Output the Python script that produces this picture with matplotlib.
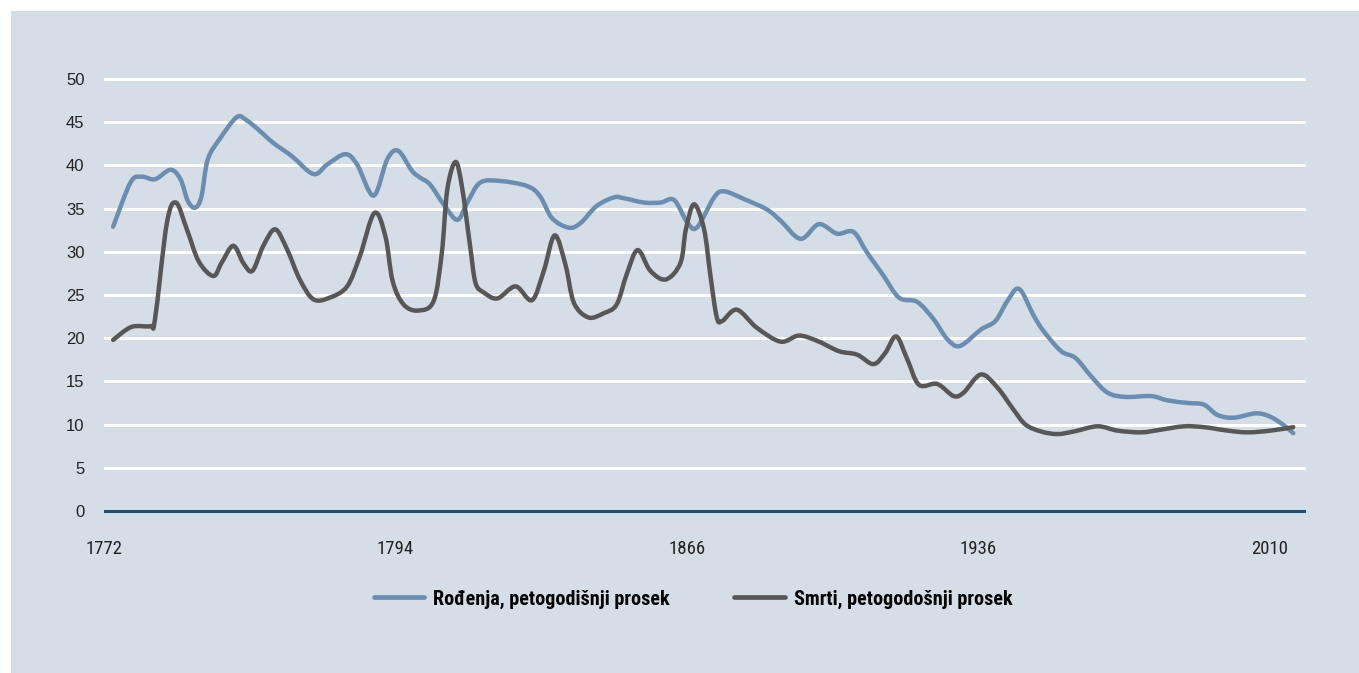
import numpy as np
import matplotlib
matplotlib.use("Agg")
import matplotlib.pyplot as plt
from matplotlib import font_manager
from matplotlib.path import Path
from matplotlib.patches import PathPatch, Rectangle
from matplotlib.lines import Line2D

# category positions (index along the category axis) and values
birth_x = [1.0, 2.9, 4.1, 5.6, 7.3, 8.4, 9.2, 10.0, 10.7, 11.4, 12.8, 14.6, 15.7, 17.1,
           18.6, 20.6, 23.0, 24.5, 26.5, 27.8, 29.6, 31.1, 32.3, 33.8, 34.7, 35.8, 37.3,
           38.8, 39.9, 41.3, 43.5, 46.5, 47.9, 49.2, 51.0, 52.3, 54.1, 56.0, 57.1, 59.3,
           61.1, 62.6, 64.0, 65.1, 67.0, 68.1, 70.3, 72.8, 74.3, 76.5, 78.5, 80.5, 82.3,
           83.8, 85.5, 87.3, 89.3, 91.1, 92.6, 94.0, 96.3, 97.9, 99.2, 100.5, 102.1, 103.2,
           105.1, 106.7, 108.4, 110.2, 112.2, 115.0, 116.8, 119.0, 120.8, 122.3, 124.1,
           126.5, 128.1, 129.6, 130.6]
birth_y = [32.9, 38.0, 38.7, 38.4, 39.5, 38.4, 35.9, 35.1, 36.4, 40.7, 43.2, 45.6, 45.2, 44.0,
           42.6, 41.1, 39.0, 40.1, 41.3, 40.1, 36.5, 40.7, 41.7, 39.4, 38.6, 37.8, 35.5,
           33.7, 35.7, 38.0, 38.2, 37.6, 36.4, 33.9, 32.8, 33.3, 35.3, 36.3, 36.2, 35.7,
           35.7, 36.0, 33.5, 32.8, 36.3, 37.0, 36.1, 34.9, 33.6, 31.5, 33.2, 32.1, 32.3,
           29.9, 27.4, 24.7, 24.2, 22.2, 19.9, 19.1, 21.0, 22.0, 24.3, 25.7, 22.6, 20.8,
           18.5, 17.7, 15.6, 13.7, 13.2, 13.3, 12.8, 12.5, 12.3, 11.1, 10.8,
           11.3, 10.9, 9.9, 9.0]

death_x = [1.0, 3.0, 5.1, 5.6, 6.9, 7.9, 9.1, 10.4, 12.0, 12.9, 14.2, 15.3, 16.3, 17.5,
           18.8, 20.1, 21.5, 23.0, 24.8, 26.7, 28.1, 29.7, 30.9, 31.7, 32.9, 34.5, 36.2,
           37.1, 37.7, 38.6, 39.3, 40.2, 40.8, 41.7, 43.2, 45.2, 47.0, 48.3, 49.5, 50.7,
           51.6, 53.2, 54.9, 56.3, 57.4, 58.6, 60.0, 61.7, 63.3, 63.9, 64.8, 65.9, 66.6,
           67.3, 67.9, 69.5, 71.7, 74.3, 76.3, 78.3, 80.7, 82.7, 84.5, 85.8, 87.0, 88.2,
           89.5, 91.5, 93.3, 94.4, 96.3, 98.1, 99.9, 101.2, 102.9, 104.7, 106.5, 109.1,
           111.3, 113.9, 116.0, 118.6, 120.8, 123.4, 125.6, 128.1, 130.6]
death_y = [19.8, 21.3, 21.4, 22.2, 33.3, 35.7, 32.6, 28.9, 27.2, 28.7, 30.7, 28.7, 27.8, 30.7,
           32.6, 30.3, 26.8, 24.5, 24.7, 26.0, 29.5, 34.5, 31.8, 26.6, 23.9, 23.2, 24.3,
           29.9, 37.2, 40.4, 37.6, 30.7, 26.4, 25.3, 24.6, 26.0, 24.4, 27.8, 31.9, 28.4,
           24.1, 22.4, 22.9, 23.9, 27.4, 30.2, 27.8, 26.8, 28.7, 32.6, 35.5, 32.6, 27.2,
           22.4, 22.0, 23.3, 21.2, 19.6, 20.3, 19.7, 18.5, 18.1, 17.0, 18.3, 20.2, 17.6,
           14.6, 14.7, 13.3, 13.7, 15.8, 14.3, 11.7, 10.0, 9.2, 8.9, 9.2, 9.8,
           9.3, 9.1, 9.4, 9.8, 9.7, 9.3, 9.1, 9.3, 9.7]

tick_pos = [0, 32, 64, 96, 128]
tick_labels = ["1772", "1794", "1866", "1936", "2010"]
y_ticks = [0, 5, 10, 15, 20, 25, 30, 35, 40, 45, 50]

labels = ["Rođenja, petogodišnji prosek", "Smrti, petogodošnji prosek"]
BLUE = "#6a8db0"
DARK = "#575757"
BG = "#d5dde6"

# the legend uses a condensed bold face; take one if the machine has it
installed = {f.name for f in font_manager.fontManager.ttflist}
narrow = next((n for n in ["Liberation Sans Narrow", "Roboto Condensed", "Open Sans Condensed"]
               if n in installed), None)
if narrow:
    leg_font = {"family": [narrow, "DejaVu Sans"], "weight": "bold", "size": 14.5}
else:
    leg_font = {"family": ["Liberation Sans", "DejaVu Sans"], "weight": "bold", "size": 12.3}


def smooth_path(xs, ys):
    # Excel-like smoothed line: cubic bezier through every point
    p = np.column_stack([xs, ys]).astype(float)
    n = len(p)
    verts = [p[0]]
    codes = [Path.MOVETO]
    for i in range(n - 1):
        p0 = p[i - 1] if i > 0 else p[i]
        p3 = p[i + 2] if i + 2 < n else p[i + 1]
        verts += [p[i] + (p[i + 1] - p0) / 6, p[i + 1] - (p3 - p[i]) / 6, p[i + 1]]
        codes += [Path.CURVE4] * 3
    return Path(verts, codes)


W, H = 1359, 673
fig = plt.figure(figsize=(W / 100, H / 100), dpi=100, facecolor="white")
fig.patches.append(Rectangle((11 / W, 0), 1 - 11 / W, (H - 11) / H,
                             transform=fig.transFigure, facecolor=BG,
                             edgecolor="none", zorder=-10))

# axes: x 0..132 -> px 104..1306, y -1..51 -> px 519.6..70.4
ax = fig.add_axes([104 / W, (H - 519.6) / H, (1306 - 104) / W, (519.6 - 70.4) / H])
ax.set_facecolor("none")
ax.set_xlim(0, 132)
ax.set_ylim(-1, 51)

for s in ax.spines.values():
    s.set_visible(False)

ax.set_yticks(y_ticks)
ax.set_yticklabels([str(v) for v in y_ticks], family=["Liberation Sans", "DejaVu Sans"],
                   fontsize=12, color="#222222")
ax.set_xticks(tick_pos)
ax.set_xticklabels(tick_labels, family=[narrow or "Liberation Sans", "DejaVu Sans"],
                   fontsize=13.5 if narrow else 12.5, color="#222222")
ax.tick_params(axis="both", length=0)
ax.tick_params(axis="y", pad=14)
ax.tick_params(axis="x", pad=15)

for v in y_ticks[1:]:
    ax.axhline(v, color="white", lw=2.2, zorder=1)
ax.axhline(0, color="#1c5075", lw=2.2, zorder=2)

ax.add_patch(PathPatch(smooth_path(birth_x, birth_y), fill=False, edgecolor=BLUE,
                       lw=3.2, capstyle="round", joinstyle="round", zorder=3))
ax.add_patch(PathPatch(smooth_path(death_x, death_y), fill=False, edgecolor=DARK,
                       lw=3.2, capstyle="round", joinstyle="round", zorder=4))

handles = [Line2D([], [], color=BLUE, lw=3.4, solid_capstyle="round"),
           Line2D([], [], color=DARK, lw=3.4, solid_capstyle="round")]
fig.legend(handles, labels, loc="center", bbox_to_anchor=(0.51, (H - 599) / H), ncol=2,
           frameon=False, handlelength=2.5, handletextpad=0.45, columnspacing=3.2,
           prop=leg_font)

fig.savefig("out.png", dpi=100, facecolor="white")
